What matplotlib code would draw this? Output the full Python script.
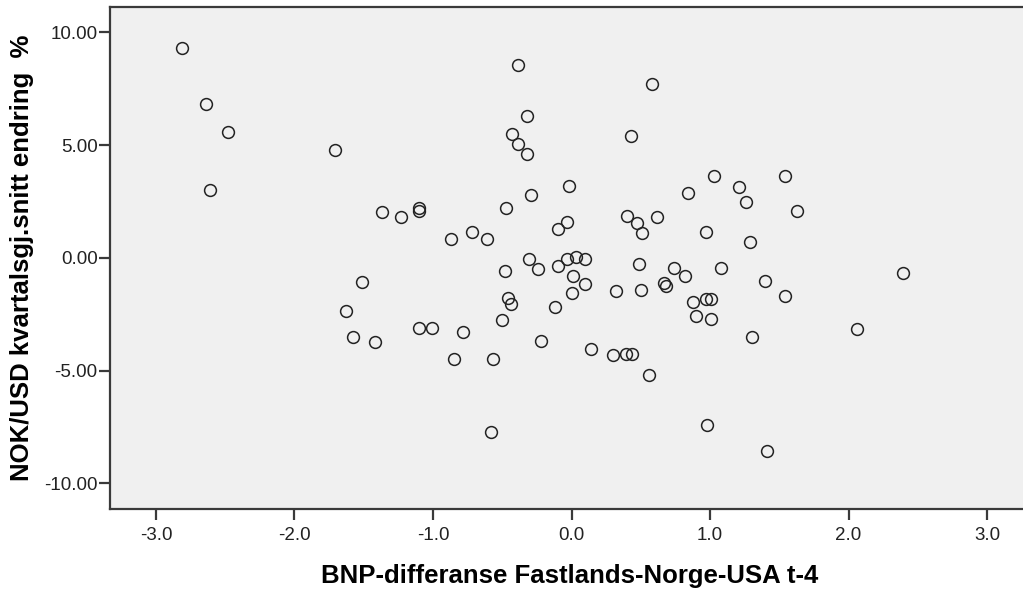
import matplotlib
matplotlib.use("Agg")
import matplotlib.pyplot as plt

# BNP-differanse (x) og NOK/USD endring i % (y), lest av figuren
bnp_diff = [
    -2.81, -2.64, -2.48, -2.61, -1.71, -0.39, 0.58, -0.32, -0.43, -0.39,
    -0.32, 0.43, -0.02, -0.29, 0.84, -1.37, -1.23, -1.10, -1.10, -0.47,
    -0.03, -0.10, 0.40, 0.47, 0.51, 0.62, -0.87, -0.72, -0.61, -0.31,
    -0.24, -0.10, -0.03, 0.03, 0.10, 0.49, 0.74, 0.82, -0.48, -1.51,
    0.01, 0.10, 0.00, 0.32, 0.50, 0.67, 0.68, -0.46, -0.44, 1.03,
    1.54, 1.21, 1.26, 1.63, 0.97, 1.29, 1.08, 1.40, 2.39, 1.54,
    0.88, 0.97, 1.01, 0.90, 1.01, 1.30, 2.06, 0.98, 1.41, -1.63,
    -1.58, -1.42, -1.10, -1.01, -0.78, -0.85, -0.57, -0.50, -0.22, -0.12,
    0.14, 0.30, 0.39, 0.44, 0.56, -0.58,
]
nok_usd = [
    9.29, 6.83, 5.57, 3.01, 4.78, 8.55, 7.71, 6.30, 5.49, 5.05,
    4.60, 5.40, 3.20, 2.77, 2.86, 2.02, 1.80, 2.20, 2.08, 2.20,
    1.60, 1.28, 1.87, 1.56, 1.09, 1.82, 0.83, 1.13, 0.83, -0.07,
    -0.48, -0.35, -0.04, 0.05, -0.05, -0.29, -0.47, -0.79, -0.57, -1.09,
    -0.81, -1.18, -1.57, -1.47, -1.43, -1.13, -1.24, -1.80, -2.04, 3.63,
    3.63, 3.15, 2.49, 2.09, 1.16, 0.71, -0.47, -1.02, -0.66, -1.69,
    -1.96, -1.84, -1.84, -2.57, -2.73, -3.50, -3.17, -7.40, -8.58, -2.35,
    -3.53, -3.75, -3.10, -3.10, -3.30, -4.49, -4.49, -2.78, -3.70, -2.17,
    -4.03, -4.32, -4.27, -4.27, -5.18, -7.71,
]

x_ticks = [-3.0, -2.0, -1.0, 0.0, 1.0, 2.0, 3.0]
y_ticks = [10.0, 5.0, 0.0, -5.0, -10.0]

x_label = "BNP-differanse Fastlands-Norge-USA t-4"
y_label = "NOK/USD kvartalsgj.snitt endring  %"

plt.rcParams["font.family"] = ["Liberation Sans", "DejaVu Sans"]

W, H = 1023, 594
fig = plt.figure(figsize=(W / 100, H / 100), dpi=100)
ax = fig.add_axes([110 / W, 1 - 509 / H, (1030 - 110) / W, (509 - 7) / H])
ax.set_facecolor("#f0f0f0")

ax.plot(bnp_diff, nok_usd, linestyle="none", marker="o", ms=8.5,
        mfc="none", mec="#222222", mew=1.1)

ax.set_xlim(-3.332, 3.31)
ax.set_ylim(-11.14, 11.12)
ax.set_xticks(x_ticks)
ax.set_xticklabels(["%.1f" % v for v in x_ticks])
ax.set_yticks(y_ticks)
ax.set_yticklabels(["%.2f" % v for v in y_ticks])

for side in ["top", "left", "bottom"]:
    ax.spines[side].set_color("#3a3a3a")
    ax.spines[side].set_linewidth(1.6)
ax.spines["right"].set_visible(False)

ax.tick_params(axis="both", direction="out", length=8, width=1.6,
               color="#3a3a3a", labelsize=13.5, labelcolor="#222222")
ax.tick_params(axis="y", pad=1)
ax.tick_params(axis="x", pad=5)

ax.set_xlabel(x_label, fontsize=18.5, fontweight="bold", labelpad=14)
ax.set_ylabel(y_label, fontsize=18.5, fontweight="bold", labelpad=7)

fig.savefig("out.png", dpi=100)
